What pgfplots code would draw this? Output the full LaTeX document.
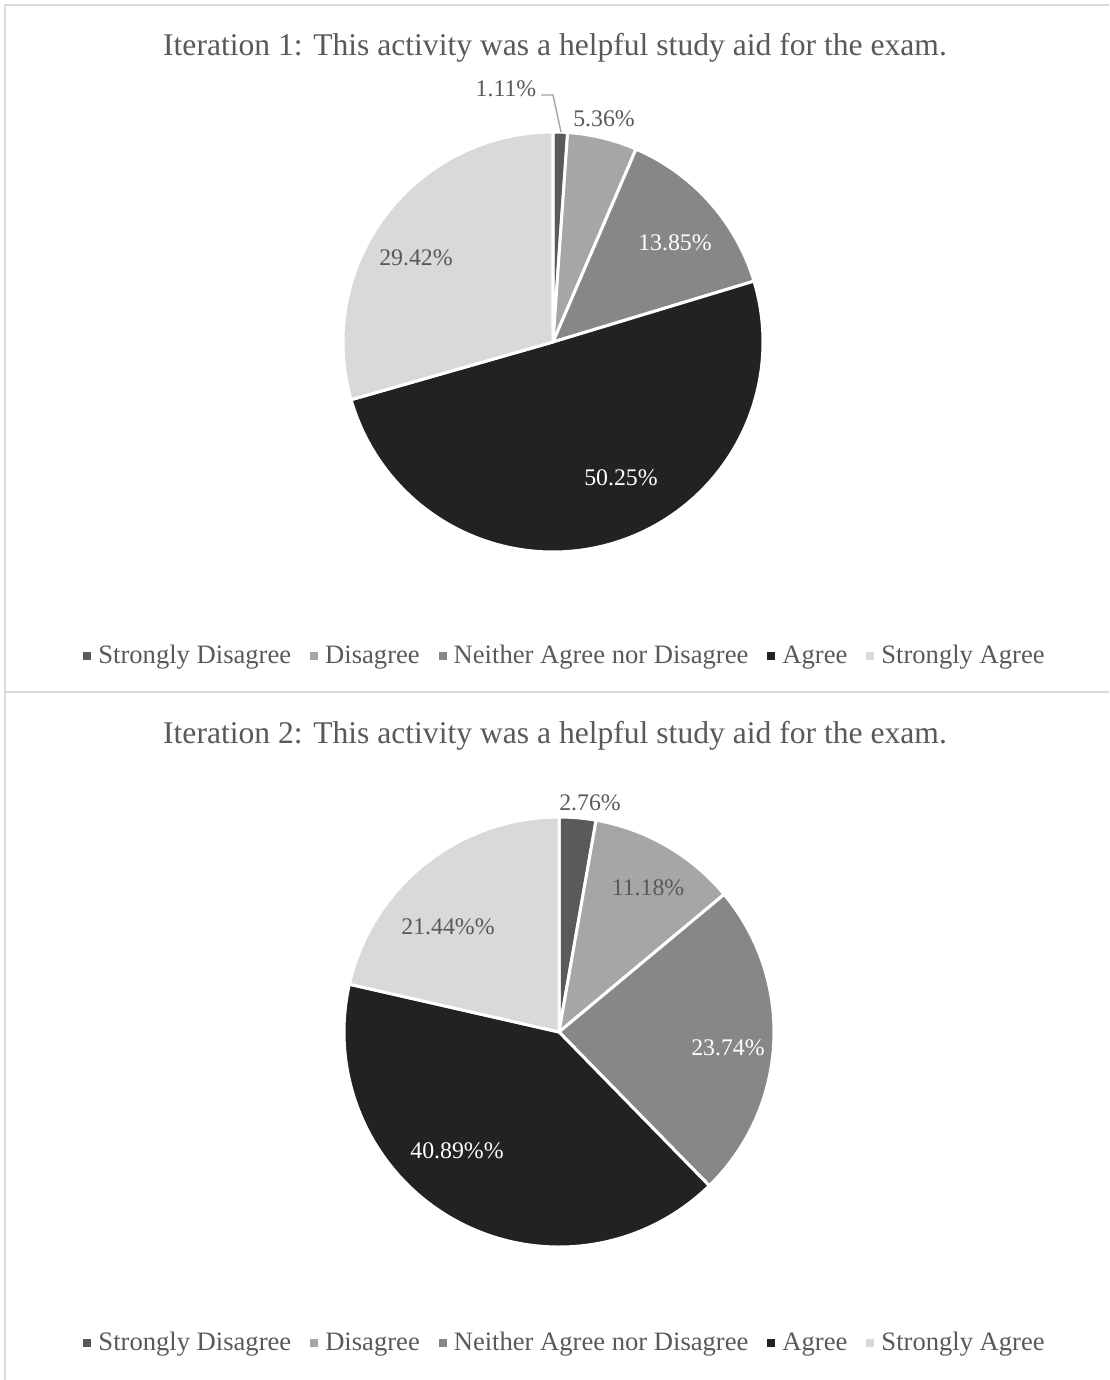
\documentclass[border=0pt]{standalone}
\usepackage{pgfplots}
\pgfplotsset{compat=1.18}
\usepackage{pgfplotstable}
\usepackage{fontspec}
\setmainfont{Liberation Serif}
\definecolor{txt}{HTML}{595959}
\definecolor{framec}{HTML}{D9D9D9}
\definecolor{slice0}{HTML}{5A5A5A}
\definecolor{slice1}{HTML}{A6A6A6}
\definecolor{slice2}{HTML}{878787}
\definecolor{slice3}{HTML}{222222}
\definecolor{slice4}{HTML}{D9D9D9}

\pgfplotstableread{
pct
1.11
5.36
13.85
50.25
29.42
}\iterone
\pgfplotstableread{
pct
2.76
11.18
23.74
40.89
21.44
}\itertwo

\newcommand\pieslices[1]{%
  \def\cum{0}%
  \pgfplotsforeachungrouped \i in {0,1,2,3,4}{%
    \pgfplotstablegetelem{\i}{pct}\of{#1}%
    \let\pct\pgfplotsretval
    \pgfmathsetmacro\a{\cum*3.6}%
    \pgfmathsetmacro\cum{\cum+\pct}%
    \pgfmathsetmacro\b{\cum*3.6}%
    \edef\temp{\noexpand\addplot[fill=slice\i, draw=white, line width=1.5pt, line join=round, domain=\a:\b, samples=100, variable=\noexpand\t] ({sin(\noexpand\t)},{cos(\noexpand\t)}) -- (axis cs:0,0) -- cycle;}%
    \temp
  }%
}

\pgfplotsset{
  pie/.style={
    scale only axis, hide axis, clip=false,
    xmin=-1, xmax=1, ymin=-1, ymax=1,
    anchor=center,
    legend columns=5,
    legend style={draw=none, fill=none, text=txt, font=\fontsize{13.3}{16}\selectfont, anchor=center,
      /tikz/every even column/.append style={column sep=7.5pt},
      /tikz/every odd column/.append style={column sep=0pt}},
    legend image code/.code={\fill[##1, draw=none] (0pt,-2pt) rectangle (4pt,2pt); \path[draw=none, fill=none] (5.5pt,0pt);},
  }
}

\begin{document}
\begin{tikzpicture}
\begin{scope}[x=0.5pt, y=-0.5pt]
\useasboundingbox (0,0) rectangle (1109,1380);
\draw[framec, line width=1pt] (5,1380) -- (5,5) -- (1109,5);
\draw[framec, line width=1pt] (5,692) -- (1109,692);
\node[text=txt, font=\fontsize{15.8}{19}\selectfont] at (555,48) {Iteration 1: This activity was a helpful study aid for the exam.};
\node[text=txt, font=\fontsize{15.8}{19}\selectfont] at (555,736) {Iteration 2: This activity was a helpful study aid for the exam.};
\end{scope}

\begin{axis}[pie, at={(276.5pt,-171pt)}, width=210pt, height=210pt,
  legend style={at={(axis cs:0.062,-1.495)}}]
\pieslices{\iterone}
\legend{Strongly Disagree, Disagree, Neither Agree nor Disagree, Agree, Strongly Agree}
\end{axis}

\begin{axis}[pie, at={(279.5pt,-516pt)}, width=215pt, height=215pt,
  legend style={at={(axis cs:0.033,-1.447)}}]
\pieslices{\itertwo}
\legend{Strongly Disagree, Disagree, Neither Agree nor Disagree, Agree, Strongly Agree}
\end{axis}

\begin{scope}[x=0.5pt, y=-0.5pt]
\draw[slice1, line width=0.7pt] (541,95) -- (553,95) -- (561,132);
\begin{scope}[every node/.style={font=\fontsize{11.9}{14}\selectfont}]
\node[text=txt] at (506,89) {1.11\%};
\node[text=txt] at (604,119) {5.36\%};
\node[text=white] at (675,243) {13.85\%};
\node[text=white] at (621,478) {50.25\%};
\node[text=txt] at (416,258) {29.42\%};
\node[text=txt] at (590,803) {2.76\%};
\node[text=txt] at (648,888) {11.18\%};
\node[text=white] at (728,1048) {23.74\%};
\node[text=white] at (457,1151) {40.89\%\%};
\node[text=txt] at (448,927) {21.44\%\%};
\end{scope}
\end{scope}
\end{tikzpicture}
\end{document}
